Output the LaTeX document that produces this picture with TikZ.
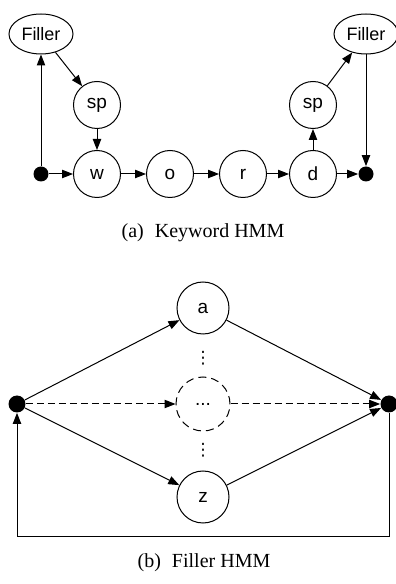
\documentclass[tikz,border=0pt]{standalone}
\usepackage{fontspec}
\setmainfont{Liberation Serif}
\setsansfont{Liberation Sans}
\newfontfamily\symfont{DejaVu Sans}
\usetikzlibrary{arrows.meta,shapes.geometric}

\begin{document}
\begin{tikzpicture}[x=10pt, y=10pt,
    state/.style={circle, draw, line width=0.5pt, minimum size=23.5pt, inner sep=0pt,
        font=\sffamily\fontsize{9.5}{11}\selectfont},
    filler/.style={ellipse, draw, line width=0.5pt, minimum width=32pt, minimum height=20pt,
        inner sep=0pt, font=\sffamily\fontsize{9}{11}\selectfont},
    term/.style={circle, fill, inner sep=0pt, minimum size=7.5pt},
    edge/.style={line width=0.5pt, -{Triangle[length=5.5pt, width=4.2pt]}},
    dashedge/.style={edge, dash pattern=on 3.5pt off 2pt},
    vdotsnode/.style={inner sep=0pt, font=\symfont\fontsize{8.5}{9}\selectfont},
    caption/.style={font=\fontsize{10}{12}\selectfont}]
    \useasboundingbox (0,0) rectangle (19.8,29.2);

    % (a) Keyword HMM
    \node[filler] (fillerL) at (2.05,27.5) {Filler};
    \node[filler] (fillerR) at (18.3,27.5) {Filler};
    \node[term] (startA) at (2.05,20.5) {};
    \node[term] (endA) at (18.3,20.5) {};
    \foreach \name/\x in {w/4.85, o/8.5, r/12.15, d/15.65} {
        \node[state] (\name) at (\x,20.5) {\name};
    }
    \node[state] (spL) at (4.85,23.95) {sp};
    \node[state] (spR) at (15.65,23.95) {sp};

    % Word chain
    \draw[edge] (startA) -- (w);
    \draw[edge] (w) -- (o);
    \draw[edge] (o) -- (r);
    \draw[edge] (r) -- (d);
    \draw[edge] (d) -- (endA);

    % Filler and short pause
    \draw[edge] (startA) -- (fillerL);
    \draw[edge] (fillerL) -- (spL);
    \draw[edge] (spL) -- (w);
    \draw[edge] (d) -- (spR);
    \draw[edge] (spR) -- (fillerR);
    \draw[edge] (fillerR) -- (endA);

    \node[caption] (capA) at (10.15,17.55) {(a)\hspace{0.55em}Keyword HMM};

    % (b) Filler HMM
    \node[term, minimum size=8.5pt] (startB) at (0.85,9.0) {};
    \node[term, minimum size=8.5pt] (endB) at (19.45,9.0) {};
    \node[state, minimum size=26pt] (a) at (10.15,13.8) {a};
    \node[state, minimum size=27pt, dash pattern=on 4pt off 2.5pt] (more) at (10.15,9.0) {...};
    \node[state, minimum size=26pt] (z) at (10.15,4.35) {z};
    \node[vdotsnode] (dotsU) at (10.15,11.3) {⋮};
    \node[vdotsnode] (dotsD) at (10.15,6.7) {⋮};
    \coordinate (loopR) at (19.45,2.35);
    \coordinate (loopL) at (0.85,2.35);

    \draw[edge] (startB) -- (a);
    \draw[edge] (a) -- (endB);
    \draw[edge] (startB) -- (z);
    \draw[edge] (z) -- (endB);
    \draw[dashedge] (startB) -- (more);
    \draw[dashedge] (more) -- (endB);

    % Loop back
    \draw[edge] (endB) -- (loopR) -- (loopL) -- (startB);

    \node[caption] (capB) at (10.2,1.05) {(b)\hspace{0.55em}Filler HMM};
\end{tikzpicture}
\end{document}
